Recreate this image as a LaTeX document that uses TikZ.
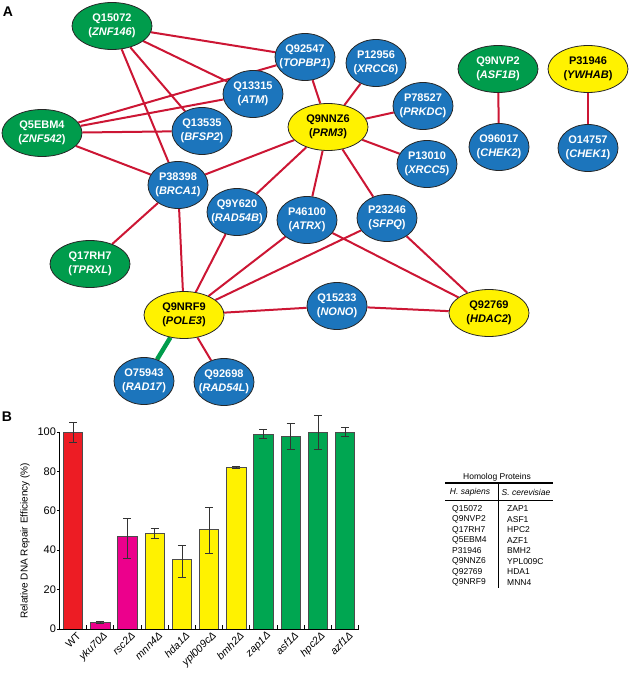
\documentclass[tikz,border=0pt]{standalone}
\usepackage{fontspec}
\setmainfont{Liberation Sans}
\usetikzlibrary{shapes.geometric}
\usetikzlibrary{backgrounds}
\definecolor{protblue}{RGB}{28,117,188}
\definecolor{protgreen}{RGB}{0,156,76}
\definecolor{protyellow}{RGB}{255,242,0}
\definecolor{linkred}{RGB}{204,22,52}
\definecolor{barred}{RGB}{237,28,36}
\definecolor{barmag}{RGB}{236,0,140}
\definecolor{baryel}{RGB}{255,242,0}
\definecolor{bargrn}{RGB}{0,166,81}
\tikzstyle{prot}=[ellipse,draw=black!85,line width=0.8pt,inner xsep=-6pt,inner ysep=-4pt,align=center,font=\fontsize{11}{14}\selectfont\bfseries,minimum width=60pt,minimum height=47pt]
\tikzstyle{blu}=[prot,fill=protblue,text=white]
\tikzstyle{grn}=[prot,fill=protgreen,text=white,minimum width=80pt]
\tikzstyle{yel}=[prot,fill=protyellow,text=black,minimum width=80pt]
\tikzstyle{lnk}=[draw=linkred,line width=2pt]
\tikzstyle{tbl}=[inner sep=0pt,font=\fontsize{8.5}{10}\selectfont]

\begin{document}
\begin{tikzpicture}[x=1pt,y=-1pt]
	\useasboundingbox (0,0) rectangle (630,674);
	\node[font=\fontsize{14}{14}\selectfont\bfseries] (pa) at (8,12) {A};
	\node[font=\fontsize{14}{14}\selectfont\bfseries] (pb) at (7,417) {B};
	% network
	\foreach \nm/\gene/\st/\x/\y in {Q15072/ZNF146/grn/112/26, Q5EBM4/ZNF542/grn/42/133,
		Q13315/ATM/blu/253/94, Q13535/BFSP2/blu/202/131, P38398/BRCA1/blu/178/185,
		Q92547/TOPBP1/blu/305/57, P12956/XRCC6/blu/376/63, P78527/PRKDC/blu/423/106,
		Q9NNZ6/PRM3/yel/328/127, P13010/XRCC5/blu/427/164, Q9NVP2/ASF1B/grn/498/69,
		P31946/YWHAB/yel/588/69, O96017/CHEK2/blu/499/147, O14757/CHEK1/blu/588/148,
		Q9Y620/RAD54B/blu/237/212, P46100/ATRX/blu/307/220, P23246/SFPQ/blu/387/218,
		Q17RH7/TPRXL/grn/90/264, Q9NRF9/POLE3/yel/184/315, Q15233/NONO/blu/337/306,
		Q92769/HDAC2/yel/489/313, O75943/RAD17/blu/144/381, Q92698/RAD54L/blu/224/382}
	{
		\node[\st] at (\x,\y)(\nm){\nm\\(\textit{\gene})};
	}
	\begin{scope}[on background layer]
		\foreach \a/\b in {Q15072/Q92547, Q15072/Q13315, Q15072/Q13535, Q15072/P38398,
			Q5EBM4/Q92547, Q5EBM4/Q13315, Q5EBM4/Q13535, Q5EBM4/P38398,
			Q9NNZ6/Q92547, Q9NNZ6/P12956, Q9NNZ6/P78527, Q9NNZ6/P13010,
			Q9NNZ6/P38398, Q9NNZ6/Q9Y620, Q9NNZ6/P46100, Q9NNZ6/P23246,
			P38398/Q17RH7, Q9NRF9/P38398, Q9NRF9/Q9Y620, Q9NRF9/P46100,
			Q9NRF9/P23246, Q9NRF9/Q15233, Q9NRF9/Q92698, Q92769/Q15233,
			Q92769/P46100, Q92769/P23246, Q9NVP2/O96017, P31946/O14757}
		{
			\draw[lnk] (\a) -- (\b);
		}
		\draw[draw=protgreen,line width=4.5pt] (Q9NRF9) -- (O75943);
	\end{scope}
	% bar chart
	\node[rotate=90,font=\fontsize{10}{12}\selectfont] (ylab) at (25,541) {Relative DNA Repair Efficiency (\%)};
	\begin{scope}[shift={(73,629)},x=27.2pt,y=1.97pt]
		\foreach \i/\v/\lo/\hi/\c/\lab in {0/100/95/105/barred/\textup{WT}, 1/3.5/3/4/barmag/yku70Δ,
			2/47/35.7/56.3/barmag/rsc2Δ, 3/48.7/46.2/51.3/baryel/mnn4Δ, 4/35.2/26.2/42.6/baryel/hda1Δ,
			5/50.4/38.2/61.6/baryel/ypl009cΔ, 6/82.1/81.7/82.5/baryel/bmh2Δ, 7/99/97/101.5/bargrn/zap1Δ,
			8/97.6/91.2/104.6/bargrn/asf1Δ, 9/100/91.2/108.6/bargrn/hpc2Δ, 10/100/98/102.2/bargrn/azf1Δ}
		{
			\draw[fill=\c,draw=black!70,line width=0.6pt] (\i-0.36,0) rectangle (\i+0.36,\v);
			\draw[black!80,line width=0.6pt] (\i,\lo) -- (\i,\hi);
			\draw[black!80,line width=0.6pt] (\i,\lo) ++(-4pt,0pt) -- ++(8pt,0pt);
			\draw[black!80,line width=0.6pt] (\i,\hi) ++(-4pt,0pt) -- ++(8pt,0pt);
			\node[xshift=6pt,yshift=-5pt,rotate=45,anchor=east,inner sep=0pt,font=\fontsize{10.5}{12}\selectfont\itshape] (xl\i) at (\i,0) {\lab};
		}
		\draw[line width=1pt] (-0.478,100) -- (-0.478,0) -- (10.5,0);
		\foreach \i in {0,...,10}
		{
			\draw[line width=1pt] (\i+0.5,0) -- ++(0pt,4pt);
		}
		\foreach \t in {0,20,...,100}
		{
			\draw[line width=1pt] (-0.478,\t) -- ++(-3pt,0pt);
			\node[anchor=east,inner sep=0pt,font=\fontsize{11}{12}\selectfont] (yt\t) at (-0.62,\t) {\t};
		}
	\end{scope}
	% homolog table
	\node[tbl] (hdr) at (497,477) {Homolog Proteins};
	\draw[line width=2.5pt] (445,483) -- (553,483);
	\node[tbl,font=\fontsize{8.5}{10}\selectfont\itshape] (hsap) at (470,492) {H. sapiens};
	\node[tbl,font=\fontsize{8.5}{10}\selectfont\itshape] (scer) at (526,492) {S. cerevisiae};
	\draw[line width=0.8pt] (445,500) -- (553,500);
	\draw[line width=0.8pt] (498,483) -- (498,588);
	\foreach \k/\h/\s in {0/Q15072/ZAP1, 1/Q9NVP2/ASF1, 2/Q17RH7/HPC2, 3/Q5EBM4/AZF1,
		4/P31946/BMH2, 5/Q9NNZ6/YPL009C, 6/Q92769/HDA1, 7/Q9NRF9/MNN4}
	{
		\node[tbl,anchor=west] at (452,{509+10.5*\k})(hs\k){\h};
		\node[tbl,anchor=west] at (507,{509+10.5*\k})(sc\k){\s};
	}
\end{tikzpicture}
\end{document}
